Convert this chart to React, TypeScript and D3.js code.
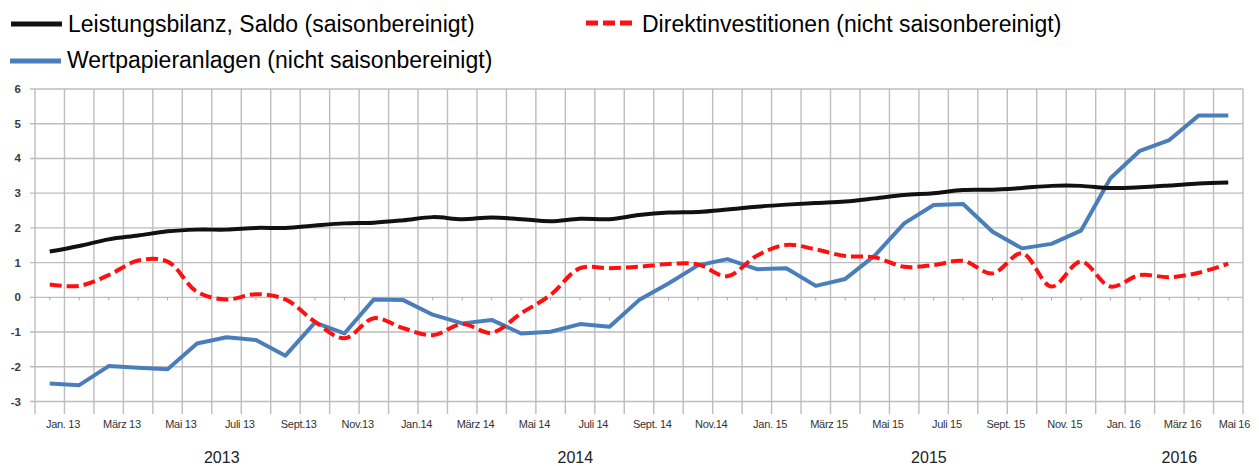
import React from "react";
import * as d3 from "d3";

const months: string[] = [
  "Jan 13","Feb 13","Mär 13","Apr 13","Mai 13","Jun 13","Jul 13","Aug 13","Sep 13","Okt 13","Nov 13","Dez 13",
  "Jan 14","Feb 14","Mär 14","Apr 14","Mai 14","Jun 14","Jul 14","Aug 14","Sep 14","Okt 14","Nov 14","Dez 14",
  "Jan 15","Feb 15","Mär 15","Apr 15","Mai 15","Jun 15","Jul 15","Aug 15","Sep 15","Okt 15","Nov 15","Dez 15",
  "Jan 16","Feb 16","Mär 16","Apr 16","Mai 16",
];

const leistungsbilanz: number[] = [
  1.32, 1.48, 1.67, 1.78, 1.9, 1.95, 1.95, 2.0, 2.0, 2.07, 2.13, 2.15,
  2.22, 2.31, 2.25, 2.3, 2.25, 2.19, 2.26, 2.25, 2.37, 2.44, 2.46, 2.53,
  2.61, 2.67, 2.72, 2.76, 2.85, 2.95, 3.0, 3.09, 3.1, 3.15, 3.21, 3.21,
  3.15, 3.17, 3.22, 3.28, 3.31,
];

const direktinvestitionen: number[] = [
  0.37, 0.33, 0.64, 1.06, 1.03, 0.16, -0.06, 0.09, -0.06, -0.7, -1.18, -0.6,
  -0.89, -1.09, -0.77, -1.02, -0.46, 0.07, 0.84, 0.84, 0.88, 0.96, 0.95, 0.61,
  1.2, 1.51, 1.38, 1.19, 1.15, 0.88, 0.93, 1.05, 0.69, 1.27, 0.31, 1.03,
  0.31, 0.64, 0.58, 0.71, 0.97,
];

const wertpapieranlagen: number[] = [
  -2.48, -2.53, -1.98, -2.03, -2.07, -1.33, -1.15, -1.23, -1.68, -0.73, -1.04, -0.06,
  -0.08, -0.5, -0.75, -0.65, -1.04, -0.99, -0.77, -0.85, -0.08, 0.4, 0.92, 1.1,
  0.81, 0.84, 0.33, 0.53, 1.2, 2.13, 2.66, 2.69, 1.89, 1.41, 1.54, 1.92,
  3.43, 4.22, 4.53, 5.24, 5.24,
];

const tickLabels: string[] = [
  "Jan. 13", "März 13", "Mai 13", "Juli 13", "Sept.13", "Nov.13",
  "Jan.14", "März 14", "Mai 14", "Juli 14", "Sept. 14", "Nov.14",
  "Jan. 15", "März 15", "Mai 15", "Juli 15", "Sept. 15", "Nov. 15",
  "Jan. 16", "März 16", "Mai 16",
];

const years: string[] = ["2013", "2014", "2015", "2016"];
const yTicks: number[] = [6, 5, 4, 3, 2, 1, 0, -1, -2, -3];

const seriesNames: string[] = [
  "Leistungsbilanz, Saldo (saisonbereinigt)",
  "Direktinvestitionen (nicht saisonbereinigt)",
  "Wertpapieranlagen (nicht saisonbereinigt)",
];

const W = 1259;
const H = 466;
const left = 35;
const right = 1243;
const gridBottom = 414;

export default function App() {
  const x = d3.scaleBand<number>().domain(d3.range(months.length)).range([left, right]).padding(0);
  const step = x.step();
  const cx = (i: number) => left + (i + 0.5) * step;
  const y = d3.scaleLinear().domain([-3, 6]).range([401.5, 89]);

  const smooth = d3.line<number>().x((_, i) => (x(i) as number) + step / 2).y((v) => y(v)).curve(d3.curveCatmullRom.alpha(0.5));
  const straight = d3.line<number>().x((_, i) => (x(i) as number) + step / 2).y((v) => y(v));

  const grid = "#bdbdbd";
  const black = "#111111";
  const red = "#ff1010";
  const blue = "#4a7ebb";
  const font = "Liberation Sans, Arial, sans-serif";

  const boundaries = d3.range(months.length + 1).map((i) => left + i * step);

  return (
    <svg width={W} height={H} style={{ position: "absolute", left: 0, top: 0, background: "#fff" }} fontFamily={font}>
      {/* Legend */}
      <g>
        <line x1={11} x2={62} y1={24} y2={24} stroke={black} strokeWidth={5} />
        <text x={68} y={31.5} fontSize={23} fill="#000">{seriesNames[0]}</text>
        <line x1={586} x2={636} y1={23} y2={23} stroke={red} strokeWidth={5} strokeDasharray="12 5" />
        <text x={642} y={31.5} fontSize={23} fill="#000">{seriesNames[1]}</text>
        <line x1={10} x2={61} y1={61} y2={61} stroke={blue} strokeWidth={5} />
        <text x={67} y={68} fontSize={23} fill="#000">{seriesNames[2]}</text>
      </g>

      {/* Grid */}
      <g>
        {yTicks.map((t) => (
          <line key={"h" + t} x1={30} x2={right} y1={y(t)} y2={y(t)} stroke={grid} strokeWidth={1.4} />
        ))}
        {boundaries.map((bx, i) => (
          <line key={"v" + i} x1={bx} x2={bx} y1={y(6)} y2={gridBottom} stroke={grid} strokeWidth={1.4} />
        ))}
        {months.map((_, i) => (
          <line key={"t" + i} x1={cx(i)} x2={cx(i)} y1={y(0)} y2={y(0) + 3} stroke="#a8a8a8" strokeWidth={1} />
        ))}
      </g>

      {/* Y labels */}
      <g>
        {yTicks.map((t) => (
          <text key={"yl" + t} x={21} y={y(t) + 4} fontSize={11.5} fontWeight="bold" fill="#3a3a3a" textAnchor="end">
            {t}
          </text>
        ))}
      </g>

      {/* X labels */}
      <g>
        {tickLabels.map((lab, k) => {
          const i = k * 2;
          const last = k === tickLabels.length - 1;
          return (
            <text
              key={"xl" + k}
              x={last ? right + 7 : cx(i) + step * 0.45}
              y={428}
              fontSize={11}
              fill="#333"
              textAnchor={last ? "end" : "middle"}
              style={{ letterSpacing: "-0.3px" }}
            >
              {lab}
            </text>
          );
        })}
        {years.map((yr) => {
          const idx = months
            .map((m, i) => [m, i] as [string, number])
            .filter(([m]) => m.endsWith(yr.slice(2)))
            .map(([, i]) => i);
          const mid = (idx[0] + idx[idx.length - 1]) / 2;
          return (
            <text key={"yr" + yr} x={cx(mid) + 10} y={463} fontSize={16} fill="#222" textAnchor="middle">
              {yr}
            </text>
          );
        })}
      </g>

      {/* Series */}
      <path d={straight(wertpapieranlagen) || ""} fill="none" stroke={blue} strokeWidth={4} strokeLinejoin="round" />
      <path d={smooth(direktinvestitionen) || ""} fill="none" stroke={red} strokeWidth={4} strokeDasharray="12 5" />
      <path d={smooth(leistungsbilanz) || ""} fill="none" stroke={black} strokeWidth={4} strokeLinejoin="round" />
    </svg>
  );
}
